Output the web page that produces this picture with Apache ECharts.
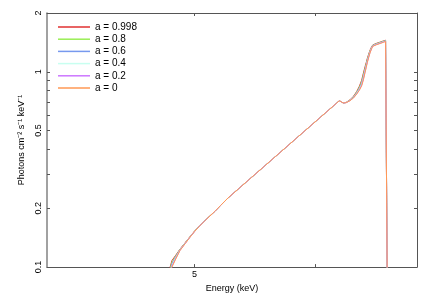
<!DOCTYPE html>
<html>
<head>
<meta charset="utf-8">
<script src="https://cdn.jsdelivr.net/npm/echarts@6/dist/echarts.min.js"></script>
<style>
html,body{margin:0;padding:0;background:#fff;}
#chart{width:436px;height:298px;}
</style>
</head>
<body>
<div id="chart"></div>
<script>
// Energy grid (keV)
var energy = [4.78, 4.81, 4.832, 4.86, 4.891, 4.93, 4.965, 5.00, 5.04, 5.08, 5.118, 5.16, 5.20, 5.26, 5.35, 5.45, 5.55, 5.65, 5.75, 5.85, 5.95, 6.05, 6.13, 6.20, 6.224, 6.24, 6.262, 6.29, 6.325, 6.36, 6.39, 6.415, 6.438, 6.455, 6.471, 6.483, 6.493, 6.507, 6.520, 6.535, 6.547, 6.565, 6.586, 6.62, 6.652, 6.675, 6.693, 6.699, 6.7005];

var seriesNames = ['a = 0.998', 'a = 0.8', 'a = 0.6', 'a = 0.4', 'a = 0.2', 'a = 0'];

var flux_a0998 = [0.05, 0.095, 0.108, 0.115, 0.1235, 0.1334, 0.143, 0.1528, 0.1632, 0.1733, 0.1829, 0.1941, 0.2066, 0.226, 0.2537, 0.2878, 0.3257, 0.3678, 0.4145, 0.4662, 0.5232, 0.586, 0.6408, 0.692, 0.711, 0.700, 0.692, 0.698, 0.719, 0.750, 0.793, 0.842, 0.905, 0.985, 1.062, 1.118, 1.170, 1.234, 1.290, 1.341, 1.373, 1.388, 1.400, 1.419, 1.438, 1.451, 1.463, 1.466, 0.02];
var flux_a08 = [0.05, 0.093, 0.106, 0.114, 0.123, 0.1331, 0.1427, 0.1526, 0.163, 0.1732, 0.1828, 0.1941, 0.2066, 0.226, 0.2537, 0.2878, 0.3257, 0.3678, 0.4145, 0.4662, 0.5232, 0.586, 0.6408, 0.692, 0.711, 0.700, 0.692, 0.697, 0.717, 0.746, 0.787, 0.832, 0.890, 0.966, 1.044, 1.103, 1.157, 1.222, 1.280, 1.334, 1.368, 1.383, 1.395, 1.414, 1.433, 1.446, 1.458, 1.461, 0.02];
var flux_a06 = [0.05, 0.091, 0.104, 0.113, 0.1226, 0.1328, 0.1425, 0.1524, 0.1628, 0.1731, 0.1827, 0.194, 0.2065, 0.226, 0.2537, 0.2878, 0.3257, 0.3678, 0.4145, 0.4662, 0.5232, 0.586, 0.6408, 0.692, 0.711, 0.700, 0.692, 0.696, 0.715, 0.742, 0.781, 0.822, 0.876, 0.948, 1.027, 1.088, 1.143, 1.210, 1.271, 1.327, 1.363, 1.378, 1.390, 1.409, 1.428, 1.441, 1.453, 1.456, 0.02];
var flux_a04 = [0.05, 0.089, 0.102, 0.112, 0.1222, 0.1325, 0.1423, 0.1522, 0.1627, 0.173, 0.1826, 0.194, 0.2065, 0.226, 0.2537, 0.2878, 0.3257, 0.3678, 0.4145, 0.4662, 0.5232, 0.586, 0.6408, 0.692, 0.711, 0.700, 0.692, 0.695, 0.713, 0.739, 0.776, 0.814, 0.864, 0.932, 1.012, 1.075, 1.131, 1.200, 1.263, 1.320, 1.358, 1.373, 1.385, 1.404, 1.423, 1.437, 1.449, 1.452, 0.02];
var flux_a02 = [0.05, 0.087, 0.101, 0.111, 0.1218, 0.1322, 0.1421, 0.152, 0.1626, 0.173, 0.1826, 0.194, 0.2065, 0.226, 0.2537, 0.2878, 0.3257, 0.3678, 0.4145, 0.4662, 0.5232, 0.586, 0.6408, 0.692, 0.711, 0.700, 0.692, 0.695, 0.712, 0.737, 0.772, 0.808, 0.855, 0.92, 1.0, 1.064, 1.121, 1.192, 1.256, 1.315, 1.354, 1.369, 1.381, 1.400, 1.419, 1.433, 1.446, 1.449, 0.02];
var flux_a0 = [0.05, 0.085, 0.1, 0.110, 0.1214, 0.132, 0.142, 0.152, 0.1626, 0.173, 0.1826, 0.194, 0.2065, 0.226, 0.2537, 0.2878, 0.3257, 0.3678, 0.4145, 0.4662, 0.5232, 0.586, 0.6408, 0.692, 0.711, 0.700, 0.692, 0.695, 0.711, 0.735, 0.769, 0.803, 0.847, 0.91, 0.990, 1.055, 1.113, 1.185, 1.250, 1.310, 1.350, 1.365, 1.377, 1.396, 1.415, 1.430, 1.443, 1.446, 0.02];

var seriesColors = ['#e03030', '#99ee55', '#7799ee', '#c8fff0', '#cc77ff', '#ff9955'];

// Axis ticks and labels
var xLabelValues = [5];
var xTickValues = [5, 6];
var yLabelValues = [0.1, 0.2, 0.5, 1, 2];
var yTickValues = [0.2, 0.3, 0.4, 0.5, 0.6, 0.7, 0.8, 0.9, 1];

var allFlux = [flux_a0998, flux_a08, flux_a06, flux_a04, flux_a02, flux_a0];

var FONT = 'Liberation Sans, Arial, Helvetica, sans-serif';

function pairs(fl) {
  return energy.map(function (e, i) { return [e, fl[i]]; });
}

var chart = echarts.init(document.getElementById('chart'), null, {renderer: 'canvas'});

var series = allFlux.map(function (fl, i) {
  return {
    name: seriesNames[i],
    type: 'line',
    data: pairs(fl),
    symbol: 'none',
    smooth: false,
    clip: true,
    animation: false,
    lineStyle: {width: 1, color: seriesColors[i]},
    itemStyle: {color: seriesColors[i]}
  };
});

function fmt(v) { return String(+(+v).toPrecision(3)); }

var option = {
  animation: false,
  backgroundColor: '#ffffff',
  textStyle: {fontFamily: FONT},
  grid: {left: 47, right: 19, top: 13, bottom: 28, containLabel: false},
  legend: {
    orient: 'vertical',
    left: 58,
    top: 22,
    padding: 0,
    icon: 'rect',
    itemWidth: 32,
    itemHeight: 1.5,
    itemGap: 2.2,
    data: seriesNames,
    textStyle: {fontSize: 10, color: '#000', fontFamily: FONT, padding: [0, 0, 0, 0]},
    selectedMode: false
  },
  xAxis: [
    {
      type: 'log', logBase: 10, min: 4, max: 7, position: 'bottom',
      name: 'Energy (keV)', nameLocation: 'middle', nameGap: 13,
      nameTextStyle: {fontSize: 9, color: '#000', fontFamily: FONT},
      axisLine: {show: true, lineStyle: {color: '#555', width: 1}},
      axisTick: {show: true, inside: true, length: 3, customValues: xTickValues, lineStyle: {color: '#555'}},
      axisLabel: {show: true, customValues: xLabelValues, margin: 3, fontSize: 9, color: '#000', fontFamily: FONT, formatter: fmt},
      splitLine: {show: false}, minorTick: {show: false}
    },
    {
      type: 'log', logBase: 10, min: 4, max: 7, position: 'top',
      axisLine: {show: true, lineStyle: {color: '#555', width: 1}},
      axisTick: {show: true, inside: true, length: 3, customValues: xTickValues, lineStyle: {color: '#555'}},
      axisLabel: {show: false},
      splitLine: {show: false}
    }
  ],
  yAxis: [
    {
      type: 'log', logBase: 10, min: 0.1, max: 2, position: 'left',
      name: 'Photons cm\u207B\u00B2 s\u207B\u00B9 keV\u207B\u00B9', nameLocation: 'middle', nameGap: 20,
      nameRotate: 90,
      nameTextStyle: {fontSize: 9, color: '#000', fontFamily: FONT},
      axisLine: {show: true, lineStyle: {color: '#8a8a8a', width: 1.6}},
      axisTick: {show: true, inside: true, length: 3, customValues: yTickValues, lineStyle: {color: '#555'}},
      axisLabel: {show: true, rotate: 90, customValues: yLabelValues, margin: 4, fontSize: 9, color: '#000', fontFamily: FONT, formatter: fmt},
      splitLine: {show: false}
    },
    {
      type: 'log', logBase: 10, min: 0.1, max: 2, position: 'right',
      axisLine: {show: true, lineStyle: {color: '#555', width: 1}},
      axisTick: {show: true, inside: true, length: 3, customValues: yTickValues, lineStyle: {color: '#555'}},
      axisLabel: {show: false},
      splitLine: {show: false}
    }
  ],
  series: series
};

chart.setOption(option);
</script>
</body>
</html>
